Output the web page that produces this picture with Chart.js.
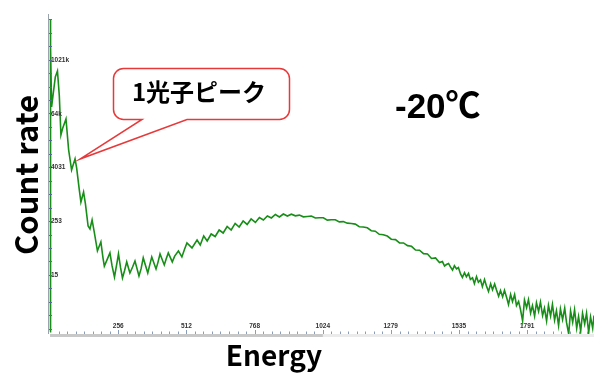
<!DOCTYPE html>
<html>
<head>
<meta charset="utf-8">
<script src="https://cdn.jsdelivr.net/npm/chart.js@4.4.1/dist/chart.umd.min.js"></script>
<style>
  html, body { margin: 0; padding: 0; background: #fff; }
  #wrap { width: 594px; height: 374px; }
</style>
</head>
<body>
<div id="wrap"><canvas id="spectrum" width="594" height="374"></canvas></div>
<script>
// spectrum: channel number and count rate (log axis)
const channels = [
  0, 1, 3, 6, 12, 20, 28, 35, 41, 48, 60, 70,
  81, 88, 94, 100, 110, 116, 122, 126, 133, 143, 150, 158,
  166, 178, 191, 199, 204, 214, 225, 233, 242, 252, 257, 265,
  272, 280, 288, 300, 310, 319, 334, 342, 350, 367, 374, 382,
  398, 405, 413, 429, 436, 444, 459, 468, 482, 495, 505, 514,
  533, 552, 564, 577,
  590, 605, 620, 635, 650, 665, 680, 695, 710, 725, 740, 755,
  771, 786, 801, 816, 831, 846, 861, 876, 891,
  906, 921, 936, 951, 966, 981, 996, 1011, 1026, 1041,
  1056, 1071, 1086, 1101, 1116, 1131, 1146, 1161, 1176, 1191,
  1206, 1221, 1236, 1251, 1266, 1281, 1297, 1312, 1327, 1342,
  1357, 1372, 1387, 1402, 1417, 1432, 1447, 1462,
  1473, 1481, 1488, 1496, 1503, 1511, 1518, 1526, 1533, 1541, 1548, 1556,
  1563, 1571, 1578, 1586, 1593, 1601, 1608, 1616, 1623, 1631, 1638, 1646,
  1654, 1661, 1669, 1676, 1684, 1691, 1699, 1706, 1714, 1721, 1729, 1736,
  1744, 1751, 1759, 1766, 1774, 1781, 1789, 1796, 1804, 1811, 1819, 1826,
  1834, 1841, 1849, 1856, 1864, 1871, 1879, 1886, 1894, 1901, 1909, 1916,
  1924, 1932, 1939, 1947, 1954, 1962, 1969, 1977, 1984, 1992, 1999, 2007,
  2014, 2022, 2029, 2037, 2042
];
const counts = [
  0.85, 8000000, 2000000, 91000, 178000, 428000, 580000, 160000, 21500, 30900, 49000, 9900,
  3550, 4830, 6250, 3930, 1265, 680, 930, 1140, 615, 198, 170, 270,
  146, 55, 87, 38, 25, 34.5, 49.4, 25.3, 14.3, 31.1, 47, 22.8,
  13.6, 20, 31.1, 17.6, 24, 32.7, 15.1, 22, 38.2, 17.6, 26, 40.2,
  21.7, 30, 47, 26.6, 36, 49.4, 31.1, 42, 54.7, 40.2, 60, 82.6,
  64, 96.4, 74.6, 118,
  91.6, 131, 115, 161, 138, 193, 161, 226, 188, 256, 214, 284,
  238, 307, 270, 331, 299, 358, 315, 367, 331,
  364, 334, 346, 317, 323, 330, 298, 302, 302, 268,
  272, 273, 245, 248, 229, 225, 218, 191, 188, 180,
  155, 151, 129, 125.6, 118, 100, 98, 83, 82.6, 72,
  69.4, 57.3, 56.7, 47.6, 46.9, 37.2, 38.2, 30.2,
  31.7, 25.1, 27.2, 28.7, 24, 20.5, 25.6, 21.7, 23.2, 16.7, 14.0, 17.8,
  14.5, 17.2, 12.6, 13.7, 10.2, 14.6, 10.9, 12.3, 8.7, 12.6, 9.1, 6.8,
  10.1, 7.4, 10, 7.3, 5.3, 7.1, 5.15, 7.2, 5.0, 3.48, 5.8, 4.05,
  5.8, 3.3, 4.05, 2.7, 1.49, 4.36, 2.93, 4.47, 2.25, 3.29, 1.91, 3.8,
  2.44, 3.95, 1.96, 2.88, 1.5, 3.32, 1.92, 3.47, 1.55, 2.52, 1.18, 2.76,
  1.6, 2.88, 1.36, 0.76, 2.49, 1.39, 2.65, 1.03, 1.87, 0.88, 2.2, 1.28,
  2.22, 0.82, 1.83, 1.02, 1.96
];

const xTickValues = [256, 512, 768, 1024, 1279, 1535, 1791];
const xTickLabels = ['256', '512', '768', '1024', '1279', '1535', '1791'];
const yTickValues = [15.9, 253, 4031, 64200, 1021000];
const yTickLabels = ['15', '253', '4031', '64k', '1021k'];

const xAxisTitle = 'Energy';
const yAxisTitle = 'Count rate';
const tempLabel = '-20℃';
const calloutText = '1光子ピーク';

const JP = '"Noto Sans CJK JP", "Noto Sans", sans-serif';

// axes, titles and the speech bubble are painted by hand
const decorations = {
  id: 'decorations',
  afterDatasetsDraw(chart) {
    const { ctx, chartArea: area, scales: { x, y } } = chart;
    const bottom = area.bottom;
    ctx.save();

    // x axis: scrollbar-like band + ticks
    ctx.fillStyle = '#ebebeb';
    ctx.fillRect(area.left, bottom + 1, area.right - area.left, 3);
    ctx.fillStyle = '#c8c8c8';
    ctx.fillRect(area.left, bottom + 1, x.getPixelForValue(1024) - area.left, 3);

    ctx.strokeStyle = '#8a9cbc';
    ctx.lineWidth = 1;
    for (let v = 32; v < x.max; v += 32) {
      const px = Math.round(x.getPixelForValue(v)) + 0.5;
      ctx.beginPath();
      ctx.moveTo(px, bottom - 1.5);
      ctx.lineTo(px, bottom + 1);
      ctx.stroke();
    }
    xTickValues.forEach(v => {
      const px = Math.round(x.getPixelForValue(v)) + 0.5;
      ctx.beginPath();
      ctx.moveTo(px, bottom - 3);
      ctx.lineTo(px, bottom + 1);
      ctx.stroke();
    });

    ctx.fillStyle = '#333';
    ctx.font = 'bold 6.5px "Liberation Sans", Arial, sans-serif';
    ctx.textAlign = 'center';
    ctx.textBaseline = 'middle';
    xTickValues.forEach((v, i) => {
      ctx.fillText(xTickLabels[i], x.getPixelForValue(v), bottom - 7);
    });

    // y axis line + ticks
    ctx.strokeStyle = '#9aa3ad';
    ctx.beginPath();
    ctx.moveTo(48.5, area.top);
    ctx.lineTo(48.5, bottom + 1);
    ctx.stroke();

    ctx.strokeStyle = '#4f6f9f';
    for (let v = yTickValues[0] / 16; v < y.max; v *= 2) {
      if (v < y.min) continue;
      const py = Math.round(y.getPixelForValue(v)) + 0.5;
      ctx.beginPath();
      ctx.moveTo(49, py);
      ctx.lineTo(52, py);
      ctx.stroke();
    }
    ctx.textAlign = 'left';
    yTickValues.forEach((v, i) => {
      ctx.fillText(yTickLabels[i], 51, y.getPixelForValue(v));
    });

    // axis titles
    ctx.fillStyle = '#000';
    ctx.textBaseline = 'alphabetic';
    ctx.textAlign = 'center';
    ctx.font = 'bold 28px ' + JP;
    ctx.fillText(xAxisTitle, 274, 366);

    ctx.save();
    ctx.translate(38, 175);
    ctx.rotate(-Math.PI / 2);
    ctx.font = 'bold 31px ' + JP;
    ctx.fillText(yAxisTitle, 0, 0);
    ctx.restore();

    // temperature
    ctx.textAlign = 'left';
    ctx.font = 'bold 35px "Liberation Sans", Arial, ' + JP;
    ctx.fillText(tempLabel, 395, 118);

    // speech bubble pointing at the first photon peak
    const L = 113.5, T = 68.5, R = 289.5, B = 119.5, r = 10;
    ctx.beginPath();
    ctx.moveTo(L + r, T);
    ctx.lineTo(R - r, T);
    ctx.arcTo(R, T, R, T + r, r);
    ctx.lineTo(R, B - r);
    ctx.arcTo(R, B, R - r, B, r);
    ctx.lineTo(187, B);
    ctx.lineTo(80, 159);
    ctx.lineTo(142, B);
    ctx.lineTo(L + r, B);
    ctx.arcTo(L, B, L, B - r, r);
    ctx.lineTo(L, T + r);
    ctx.arcTo(L, T, L + r, T, r);
    ctx.closePath();
    ctx.fillStyle = '#fff';
    ctx.fill();
    ctx.strokeStyle = '#e8393a';
    ctx.lineWidth = 1.5;
    ctx.stroke();

    ctx.fillStyle = '#000';
    ctx.textAlign = 'center';
    ctx.textBaseline = 'middle';
    ctx.font = 'bold 24px ' + JP;
    ctx.fillText(calloutText, 199, 92);

    ctx.restore();
  }
};

new Chart(document.getElementById('spectrum'), {
  type: 'line',
  data: {
    datasets: [{
      data: channels.map((c, i) => ({ x: c, y: counts[i] })),
      borderColor: '#178e17',
      borderWidth: 1.6,
      pointRadius: 0,
      tension: 0,
      clip: 4
    }]
  },
  options: {
    responsive: false,
    animation: false,
    devicePixelRatio: 1,
    layout: { padding: { top: 14, right: 0, left: 0, bottom: 0 } },
    plugins: { legend: { display: false }, tooltip: { enabled: false } },
    scales: {
      x: {
        type: 'linear',
        min: 0,
        max: 2042,
        grid: { display: false },
        border: { display: false },
        ticks: { display: false },
        afterFit: s => { s.height = 41; }
      },
      y: {
        type: 'logarithmic',
        min: 0.8,
        max: 10900000,
        grid: { display: false },
        border: { display: false },
        ticks: { display: false },
        afterFit: s => { s.width = 50; }
      }
    }
  },
  plugins: [decorations]
});
</script>
</body>
</html>
